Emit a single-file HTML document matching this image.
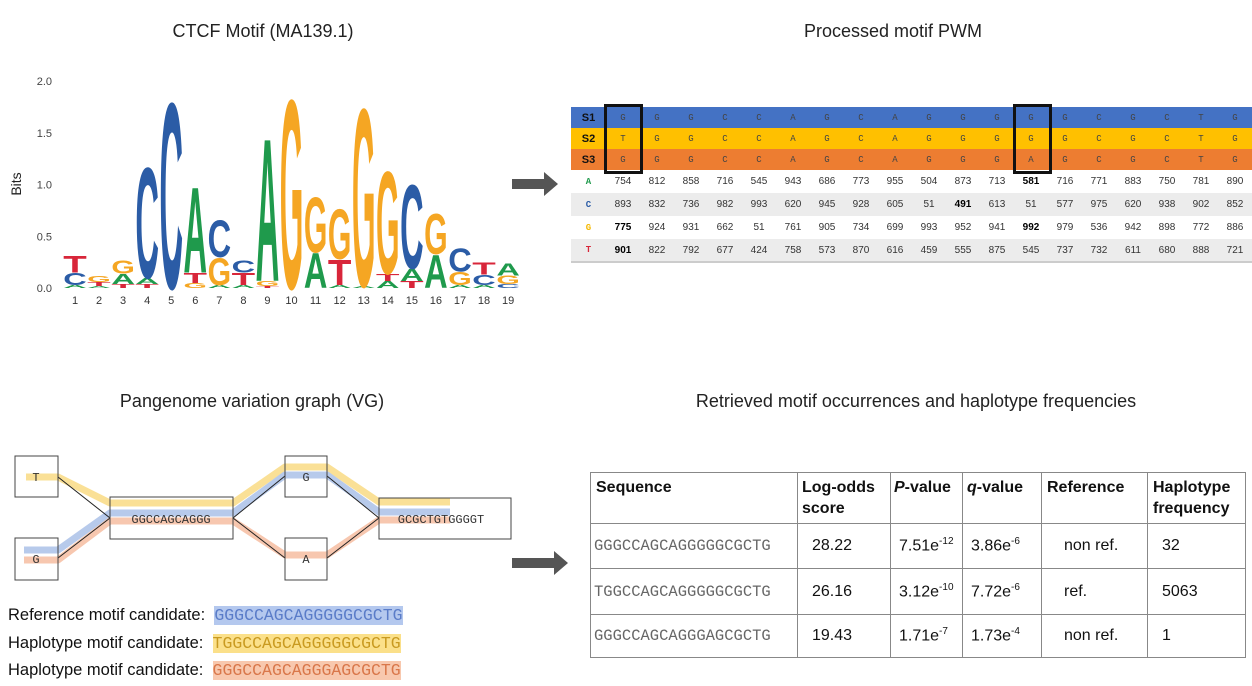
<!DOCTYPE html>
<html><head><meta charset="utf-8">
<style>
body{margin:0;background:#fff;font-family:"Liberation Sans",sans-serif;}
#root{position:relative;width:1252px;height:686px;overflow:hidden;}
.title{position:absolute;font-size:18px;color:#222;text-align:center;white-space:nowrap;}
table{border-collapse:collapse;}
.sq{font-family:'Liberation Mono',monospace;font-size:16.5px;}
</style></head>
<body>
<div id="root">
<div class="title" style="left:63px;top:21px;width:400px">CTCF Motif (MA139.1)</div>
<div class="title" style="left:693px;top:21px;width:400px">Processed motif PWM</div>
<div class="title" style="left:52px;top:391px;width:400px">Pangenome variation graph (VG)</div>
<div class="title" style="left:616px;top:391px;width:600px">Retrieved motif occurrences and haplotype frequencies</div>

<svg id="logo" width="1252" height="686" style="position:absolute;left:0;top:0"></svg>

<svg width="1252" height="686" style="position:absolute;left:0;top:0">
<polygon points="512,179 544,179 544,172 558,184 544,196 544,189 512,189" fill="#555"/>
<polygon points="512,558 554,558 554,551 568,563 554,575 554,568 512,568" fill="#555"/>
</svg>

<div id="pwm" style="position:absolute;left:571px;top:107px;width:681px"></div>

<svg width="520" height="600" style="position:absolute;left:0;top:0">
<g fill="none" stroke-width="7" stroke-linejoin="round" opacity="0.55">
<polyline stroke="#f7c842" points="26,477 58,477 110,503 233,503 285,467 327,467 379,502 450,502"/>
<polyline stroke="#7e9fdc" points="24,550 58,550 110,513 233,513 285,475 327,475 379,512 450,512"/>
<polyline stroke="#f29a6e" points="24,560 58,560 110,521 233,521 285,555 327,555 379,520 450,520"/>
</g>
<g fill="none" stroke="#222" stroke-width="1">
<line x1="58" y1="477" x2="110" y2="518"/><line x1="58" y1="558" x2="110" y2="518"/>
<line x1="233" y1="518" x2="285" y2="476"/><line x1="233" y1="518" x2="285" y2="558"/>
<line x1="327" y1="476" x2="379" y2="518"/><line x1="327" y1="558" x2="379" y2="518"/>
</g>
<g fill="none" stroke="#444" stroke-width="1">
<rect x="15" y="456" width="43" height="41"/>
<rect x="15" y="538" width="43" height="42"/>
<rect x="110" y="497" width="123" height="42"/>
<rect x="285" y="456" width="42" height="41"/>
<rect x="285" y="538" width="42" height="42"/>
<rect x="379" y="498" width="132" height="41"/>
</g>
<g font-family="'Liberation Mono',monospace" font-size="12" fill="#333" text-anchor="middle">
<text x="36" y="481">T</text><text x="36" y="563">G</text>
<text x="171" y="523">GGCCAGCAGGG</text><text x="306" y="481">G</text><text x="306" y="563">A</text>
<text x="441" y="523">GCGCTGTGGGGT</text>
</g>
</svg>

<div style="position:absolute;left:8px;top:602px;font-size:16.5px;color:#111;line-height:27.5px;white-space:nowrap">
<div>Reference motif candidate:&nbsp; <span class="sq" style="background:#b4c8ee;color:#5a7cc8">GGGCCAGCAGGGGGCGCTG</span></div>
<div>Haplotype motif candidate:&nbsp; <span class="sq" style="background:#fbe08a;color:#c99a20">TGGCCAGCAGGGGGCGCTG</span></div>
<div>Haplotype motif candidate:&nbsp; <span class="sq" style="background:#f8c8ae;color:#d9774a">GGGCCAGCAGGGAGCGCTG</span></div>
</div>

<table style="position:absolute;left:590px;top:472px;font-size:16px;color:#111">
<colgroup><col style="width:207px"><col style="width:93px"><col style="width:72px"><col style="width:79px"><col style="width:106px"><col style="width:98px"></colgroup>
<tr style="height:46px;font-weight:bold;vertical-align:top;line-height:21px">
<td style="border:1px solid #888;padding:4px 5px">Sequence</td>
<td style="border:1px solid #888;padding:4px 4px">Log-odds score</td>
<td style="border:1px solid #888;padding:4px 3px"><i>P</i>-value</td>
<td style="border:1px solid #888;padding:4px 4px"><i>q</i>-value</td>
<td style="border:1px solid #888;padding:4px 5px">Reference</td>
<td style="border:1px solid #888;padding:4px 5px">Haplotype frequency</td></tr>
<tr style="height:45px"><td class="sq" style="border:1px solid #888;padding:0 3px;font-size:15.5px;color:#666">GGGCCAGCAGGGGGCGCTG</td><td style="border:1px solid #888;padding-left:14px">28.22</td><td style="border:1px solid #888;padding-left:8px">7.51e<sup style="font-size:10px">-12</sup></td><td style="border:1px solid #888;padding-left:8px">3.86e<sup style="font-size:10px">-6</sup></td><td style="border:1px solid #888;padding-left:22px">non ref.</td><td style="border:1px solid #888;padding-left:14px">32</td></tr>
<tr style="height:46px"><td class="sq" style="border:1px solid #888;padding:0 3px;font-size:15.5px;color:#666">TGGCCAGCAGGGGGCGCTG</td><td style="border:1px solid #888;padding-left:14px">26.16</td><td style="border:1px solid #888;padding-left:8px">3.12e<sup style="font-size:10px">-10</sup></td><td style="border:1px solid #888;padding-left:8px">7.72e<sup style="font-size:10px">-6</sup></td><td style="border:1px solid #888;padding-left:22px">ref.</td><td style="border:1px solid #888;padding-left:14px">5063</td></tr>
<tr style="height:43px"><td class="sq" style="border:1px solid #888;padding:0 3px;font-size:15.5px;color:#666">GGGCCAGCAGGGAGCGCTG</td><td style="border:1px solid #888;padding-left:14px">19.43</td><td style="border:1px solid #888;padding-left:8px">1.71e<sup style="font-size:10px">-7</sup></td><td style="border:1px solid #888;padding-left:8px">1.73e<sup style="font-size:10px">-4</sup></td><td style="border:1px solid #888;padding-left:22px">non ref.</td><td style="border:1px solid #888;padding-left:14px">1</td></tr>
</table>
</div>

<script>
const positions = [1,2,3,4,5,6,7,8,9,10,11,12,13,14,15,16,17,18,19];
const stackLetters = [["A","C","T"],["A","T","G"],["T","A","G"],["T","A","C"],["C"],["G","T","A"],["A","G","C"],["A","T","C"],["T","G","A"],["G"],["A","G"],["A","T","G"],["A","G"],["A","T","G"],["T","A","C"],["A","G"],["A","G","C"],["A","C","T"],["C","G","A"]];
const stackHeights = [[0.03,0.12,0.17],[0.02,0.04,0.06],[0.04,0.1,0.13],[0.04,0.06,1.1],[1.85],[0.05,0.1,0.85],[0.03,0.27,0.37],[0.03,0.12,0.12],[0.02,0.05,1.42],[1.88],[0.35,0.55],[0.03,0.25,0.5],[0.02,1.77],[0.07,0.07,1.02],[0.07,0.12,0.83],[0.33,0.4],[0.03,0.13,0.23],[0.03,0.1,0.12],[0.04,0.08,0.12]];
const yTicks = ["0.0","0.5","1.0","1.5","2.0"];
const colors = {A:"#1f9a4c",C:"#2b5ca6",G:"#f5a623",T:"#d8263a"};
const NS="http://www.w3.org/2000/svg";
const svg=document.getElementById('logo');
const x0=75, dx=24.06, y0=288, bitPx=103.5, letterW=23.5;
const xs=i=>x0+dx*(positions[i]-1);
const ys=v=>y0-v*bitPx;
yTicks.forEach(t=>{
  const tx=document.createElementNS(NS,'text');
  
  
  tx.setAttribute('x',52);tx.setAttribute('y',ys(+t)+4);
  tx.setAttribute('text-anchor','end');tx.setAttribute('font-size','11');tx.setAttribute('fill','#444');
  tx.textContent=t;svg.appendChild(tx);
});
const yt=document.createElementNS(NS,'text');


yt.setAttribute('transform','translate(21,184) rotate(-90)');yt.setAttribute('text-anchor','middle');yt.setAttribute('font-size','14');yt.setAttribute('fill','#222');
yt.textContent='Bits';svg.appendChild(yt);
positions.forEach((p,i)=>{
  const lx=document.createElementNS(NS,'text');
  
  
  lx.setAttribute('x',xs(i));lx.setAttribute('y',304);lx.setAttribute('text-anchor','middle');lx.setAttribute('font-size','11');lx.setAttribute('fill','#333');
  lx.textContent=p;svg.appendChild(lx);
  let cum=0;
  stackLetters[i].forEach((L,j)=>{
    const h=stackHeights[i][j];
    const g=document.createElementNS(NS,'g');
    const hp=h*bitPx;
    g.setAttribute('transform',`translate(${xs(i)-letterW/2},${ys(cum)}) scale(1,${hp/72})`);
    const t=document.createElementNS(NS,'text');
    
    
    t.setAttribute('x',0);t.setAttribute('y',0);t.setAttribute('font-size','100');
    t.setAttribute('font-weight','bold');
    t.setAttribute('textLength',letterW);t.setAttribute('lengthAdjust','spacingAndGlyphs');
    t.setAttribute('fill',colors[L]);t.textContent=L;
    g.appendChild(t);svg.appendChild(g);
    cum+=h;
  });
});

const seqS1="GGGCCAGCAGGGGGCGCTG".split("");
const seqS2="TGGCCAGCAGGGGGCGCTG".split("");
const seqS3="GGGCCAGCAGGGAGCGCTG".split("");
const rowA=[754,812,858,716,545,943,686,773,955,504,873,713,581,716,771,883,750,781,890];
const rowC=[893,832,736,982,993,620,945,928,605,51,491,613,51,577,975,620,938,902,852];
const rowG=[775,924,931,662,51,761,905,734,699,993,952,941,992,979,536,942,898,772,886];
const rowT=[901,822,792,677,424,758,573,870,616,459,555,875,545,737,732,611,680,888,721];
const pwm=document.getElementById('pwm');
let html='<table style="width:681px;table-layout:fixed;font-size:10px;color:#333">';
html+='<col style="width:35px">'+'<col>'.repeat(19);
const sRows=[["S1",seqS1,"#4472c4"],["S2",seqS2,"#ffc000"],["S3",seqS3,"#ed7d31"]];
sRows.forEach(r=>{
  html+=`<tr style="height:21px;background:${r[2]}"><td style="font-weight:bold;font-size:11px;color:#111;text-align:center">${r[0]}</td>`;
  r[1].forEach(c=>html+=`<td style="text-align:center;font-family:'Liberation Mono',monospace;font-size:9px;color:#444">${c}</td>`);
  html+='</tr>';
});
const nRows=[["A",rowA,"#1f9a4c","#fff"],["C",rowC,"#2b5ca6","#ececec"],["G",rowG,"#f5b800","#fff"],["T",rowT,"#d8263a","#ececec"]];
const bold={A:[12],C:[10],G:[0,12],T:[0]};
nRows.forEach((r,ri)=>{
  html+=`<tr style="height:23px;background:${r[3]};${ri==3?'border-bottom:2px solid #ccc':''}"><td style="text-align:center;color:${r[2]};font-family:'Liberation Mono',monospace;font-size:9px;font-weight:bold">${r[0]}</td>`;
  r[1].forEach((v,k)=>html+=`<td style="text-align:center;${bold[r[0]].includes(k)?'font-weight:bold;color:#000':''}">${v}</td>`);
  html+='</tr>';
});
html+='</table>';
html+='<div style="position:absolute;left:33px;top:-3px;width:33px;height:64px;border:3px solid #111"></div>';
html+='<div style="position:absolute;left:442px;top:-3px;width:33px;height:64px;border:3px solid #111"></div>';
pwm.innerHTML=html;
</script>
</body></html>
